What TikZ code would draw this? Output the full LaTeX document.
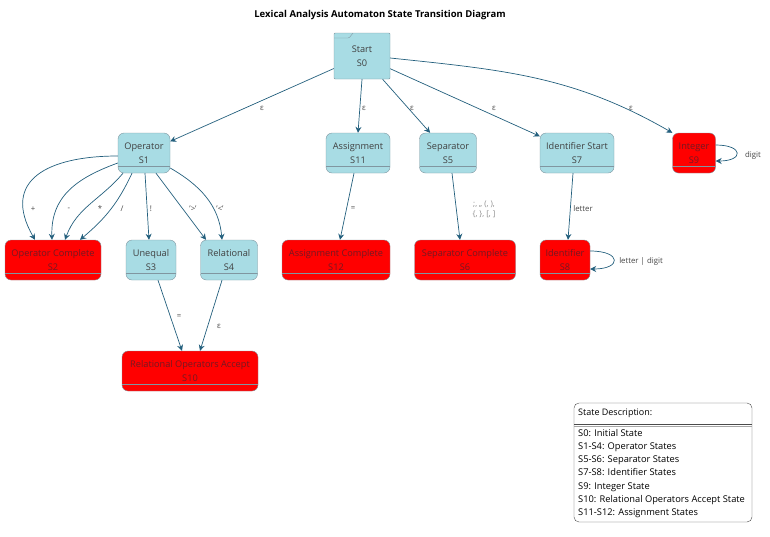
\documentclass[tikz,border=0pt]{standalone}
\usepackage{fontspec}
\setmainfont{Open Sans}
\usetikzlibrary{arrows.meta}

\definecolor{stateblue}{RGB}{168,220,228}
\definecolor{stateline}{RGB}{128,150,160}
\definecolor{acceptred}{RGB}{255,0,0}
\definecolor{accepttext}{RGB}{115,25,35}
\definecolor{arc}{RGB}{35,95,125}
\definecolor{lbl}{RGB}{70,70,70}

\tikzset{
  state/.style={draw=stateline, fill=stateblue, rounded corners=6pt, minimum height=40pt, inner sep=0pt, align=center, text=black!75, font=\fontsize{9.2}{14}\selectfont,
    path picture={\draw[stateline, line width=0.5pt] ([yshift=7pt]path picture bounding box.south west) -- ([yshift=7pt]path picture bounding box.south east);}},
  accept/.style={state, fill=acceptred, text=accepttext},
  startstate/.style={draw=stateline, fill=stateblue, rounded corners=1pt, minimum width=56pt, minimum height=46pt, inner sep=0pt, align=center, text=black!75, font=\fontsize{9.2}{14}\selectfont,
    path picture={\draw[stateline] ([yshift=-5pt]path picture bounding box.north west) -- ++(15pt,0pt) -- ++(4pt,5pt);}},
  trans/.style={draw=arc, line width=0.7pt, -{Stealth[length=6pt,width=6pt,inset=2pt]}},
  lab/.style={font=\fontsize{7.8}{10}\selectfont, text=lbl, inner sep=1pt},
}

\begin{document}
\begin{tikzpicture}[x=1pt,y=-1pt]

\useasboundingbox (0,0) rectangle (770,536);

\node[font=\bfseries\fontsize{9.5}{11}\selectfont] (title) at (380,15) {Lexical Analysis Automaton State Transition Diagram};

\node[startstate] (s0) at (362,56) {Start\\S0};

\node[state, minimum width=52pt] (s1) at (144,153) {Operator\\S1};
\node[state, minimum width=64pt] (s11) at (358,153) {Assignment\\S11};
\node[state, minimum width=57pt] (s5) at (448,153) {Separator\\S5};
\node[state, minimum width=74pt] (s7) at (577,153) {Identifier Start\\S7};
\node[accept, minimum width=43pt] (s9) at (694,153) {Integer\\S9};

\node[accept, minimum width=96pt] (s2) at (53,260) {Operator Complete\\S2};
\node[state, minimum width=50pt] (s3) at (151,260) {Unequal\\S3};
\node[state, minimum width=57pt] (s4) at (229,260) {Relational\\S4};
\node[accept, minimum width=108pt] (s12) at (336,260) {Assignment Complete\\S12};
\node[accept, minimum width=101pt] (s6) at (465,260) {Separator Complete\\S6};
\node[accept, minimum width=50pt] (s8) at (565,260) {Identifier\\S8};

\node[accept, minimum width=136pt] (s10) at (190,371) {Relational Operators Accept\\S10};

% transitions out of the start state
\draw[trans] (s0) -- (s1) node[lab] at (262,108) {ε};
\draw[trans] (s0.south) -- (s11.north) node[lab] at (364,108) {ε};
\draw[trans] (s0) -- (s5) node[lab] at (412,108) {ε};
\draw[trans] (s0) -- (s7) node[lab] at (494,108) {ε};
\draw[trans] ([yshift=-2pt]s0.east) to[out=-6,in=150] (s9.north west) node[lab] at (631,108) {ε};

% operators
\draw[trans] ([yshift=-3pt]s1.west) to[out=180,in=120,looseness=1.5] ([xshift=-18pt]s2.north) node[lab] at (33,209) {+};
\draw[trans] ([yshift=-10pt]s1.west) to[out=200,in=92,looseness=1.1] ([xshift=-1pt]s2.north) node[lab] at (69,209) {-};
\draw[trans] ([xshift=-21pt]s1.south) to[out=230,in=70] ([xshift=12pt]s2.north) node[lab] at (100,209) {*};
\draw[trans] ([xshift=-12pt]s1.south) to[out=245,in=40] ([xshift=27pt]s2.north) node[lab] at (122,209) {/};
\draw[trans] ([xshift=1pt]s1.south) -- ([xshift=-2pt]s3.north) node[lab] at (151,209) {!};
\draw[trans] ([xshift=12pt]s1.south) -- ([xshift=-23pt]s4.north) node[lab] at (193,209) {'>'};
\draw[trans] ([yshift=-15pt]s1.east) to[out=-30,in=95] ([xshift=-7pt]s4.north) node[lab] at (220,209) {'<'};

\draw[trans] ([xshift=7pt]s3.south) -- ([xshift=-8pt]s10.north) node[lab] at (179,317) {=};
\draw[trans] ([xshift=-7pt]s4.south) -- ([xshift=10pt]s10.north) node[lab] at (219,326) {ε};

% assignment, separators, identifiers
\draw[trans] ([xshift=-4pt]s11.south) -- ([xshift=4pt]s12.north) node[lab] at (353,209) {=};
\draw[trans] ([xshift=4pt]s5.south) -- ([xshift=-5pt]s6.north) node[lab, align=center, text=black!45] at (484,209) {;, ,, (, ),\\\{, \}, [, ]};
\draw[trans] ([xshift=-4pt]s7.south) -- ([xshift=3pt]s8.north) node[lab] at (583,209) {letter};
\draw[trans] ([yshift=9pt]s8.east) to[out=0,in=0,looseness=4.5] ([yshift=-9pt]s8.east) node[lab] at (641,261) {letter | digit};
\draw[trans] ([yshift=8pt]s9.east) to[out=0,in=0,looseness=4.5] ([yshift=-8pt]s9.east) node[lab] at (753,155) {digit};

% legend
\draw[black!70, fill=white, rounded corners=5pt] (574,403) rectangle (752,522);
\node[anchor=west, font=\fontsize{9}{11}\selectfont, inner sep=0pt] (dhead) at (578,413) {State Description:};
\draw[black!70, line width=0.8pt] (574,424) -- (752,424);
\draw[black!35] (574,426.5) -- (752,426.5);
\node[anchor=north west, align=left, font=\fontsize{9.3}{13.2}\selectfont, inner sep=0pt] (dlist) at (578,429) {S0: Initial State\\S1-S4: Operator States\\S5-S6: Separator States\\S7-S8: Identifier States\\S9: Integer State\\S10: Relational Operators Accept State\\S11-S12: Assignment States};

\end{tikzpicture}
\end{document}
